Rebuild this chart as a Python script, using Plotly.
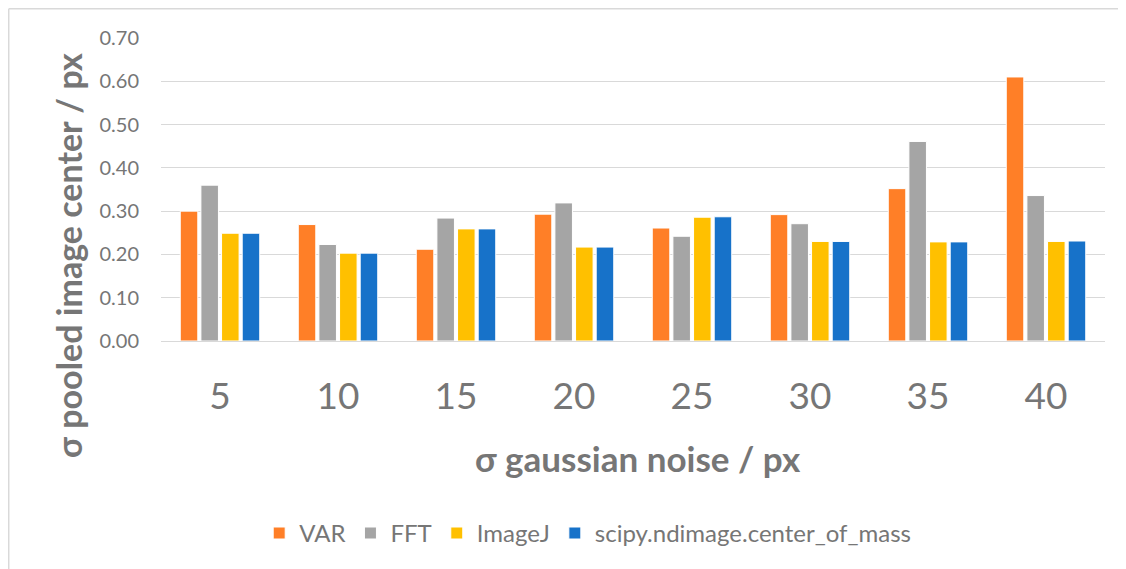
import plotly.graph_objects as go

categories = ["5", "10", "15", "20", "25", "30", "35", "40"]
var_vals = [0.300, 0.269, 0.212, 0.293, 0.261, 0.292, 0.352, 0.610]
fft_vals = [0.360, 0.223, 0.284, 0.319, 0.242, 0.271, 0.461, 0.336]
imagej_vals = [0.249, 0.203, 0.259, 0.217, 0.286, 0.230, 0.229, 0.230]
scipy_vals = [0.249, 0.203, 0.259, 0.217, 0.287, 0.230, 0.229, 0.231]

series = [
    ("VAR", var_vals, "#FF7F27"),
    ("FFT", fft_vals, "#A5A5A5"),
    ("ImageJ", imagej_vals, "#FFC000"),
    ("scipy.ndimage.center_of_mass", scipy_vals, "#1772C9"),
]

TXT = "#767676"
FONT = "Lato"

fig = go.Figure()
for name, vals, col in series:
    fig.add_trace(go.Bar(
        x=categories, y=vals, name=name,
        marker=dict(color=col, line=dict(color="white", width=1)),
    ))

BORDER = dict(color="#D9D9D9", width=1.5)

fig.update_layout(
    width=1118, height=561,
    margin=dict(l=153, r=21, t=30, b=228),
    paper_bgcolor="white", plot_bgcolor="white",
    barmode="group", bargap=0.3, bargroupgap=0.15,
    font=dict(family=FONT, color=TXT),
    showlegend=True,
    legend=dict(
        orientation="h", x=0.452, xanchor="center", y=-0.635, yanchor="middle",
        font=dict(size=24, color=TXT, family=FONT),
        itemwidth=30, traceorder="normal",
    ),
    xaxis=dict(
        type="category", showgrid=False, showline=False,
        tickfont=dict(size=37, color=TXT, family=FONT),
        ticks="", ticklabelstandoff=30,
    ),
    yaxis=dict(
        range=[0, 0.7], dtick=0.1, tickformat=".2f",
        showgrid=True, gridcolor="#D9D9D9", gridwidth=1.4,
        zeroline=True, zerolinecolor="#D9D9D9", zerolinewidth=1.4,
        showline=False,
        tickfont=dict(size=20, color=TXT, family=FONT),
        ticklabelstandoff=21,
    ),
    annotations=[
        dict(text="<b>σ pooled image center / px</b>", xref="paper", yref="paper",
             x=-0.0975, y=0.284, xanchor="center", yanchor="middle",
             textangle=-90, showarrow=False,
             font=dict(size=34, color=TXT, family=FONT)),
        dict(text="<b>σ gaussian noise / px</b>", xref="paper", yref="paper",
             x=0.505, y=-0.386, xanchor="center", yanchor="middle",
             showarrow=False,
             font=dict(size=35, color=TXT, family=FONT)),
    ],
    shapes=[
        dict(type="line", xref="paper", yref="paper",
             x0=-0.1613, y0=1.0965, x1=1.03, y1=1.0965, line=BORDER, layer="below"),
        dict(type="line", xref="paper", yref="paper",
             x0=-0.1613, y0=1.0965, x1=-0.1613, y1=-0.80, line=BORDER, layer="below"),
    ],
)

fig.write_html("out.html")
